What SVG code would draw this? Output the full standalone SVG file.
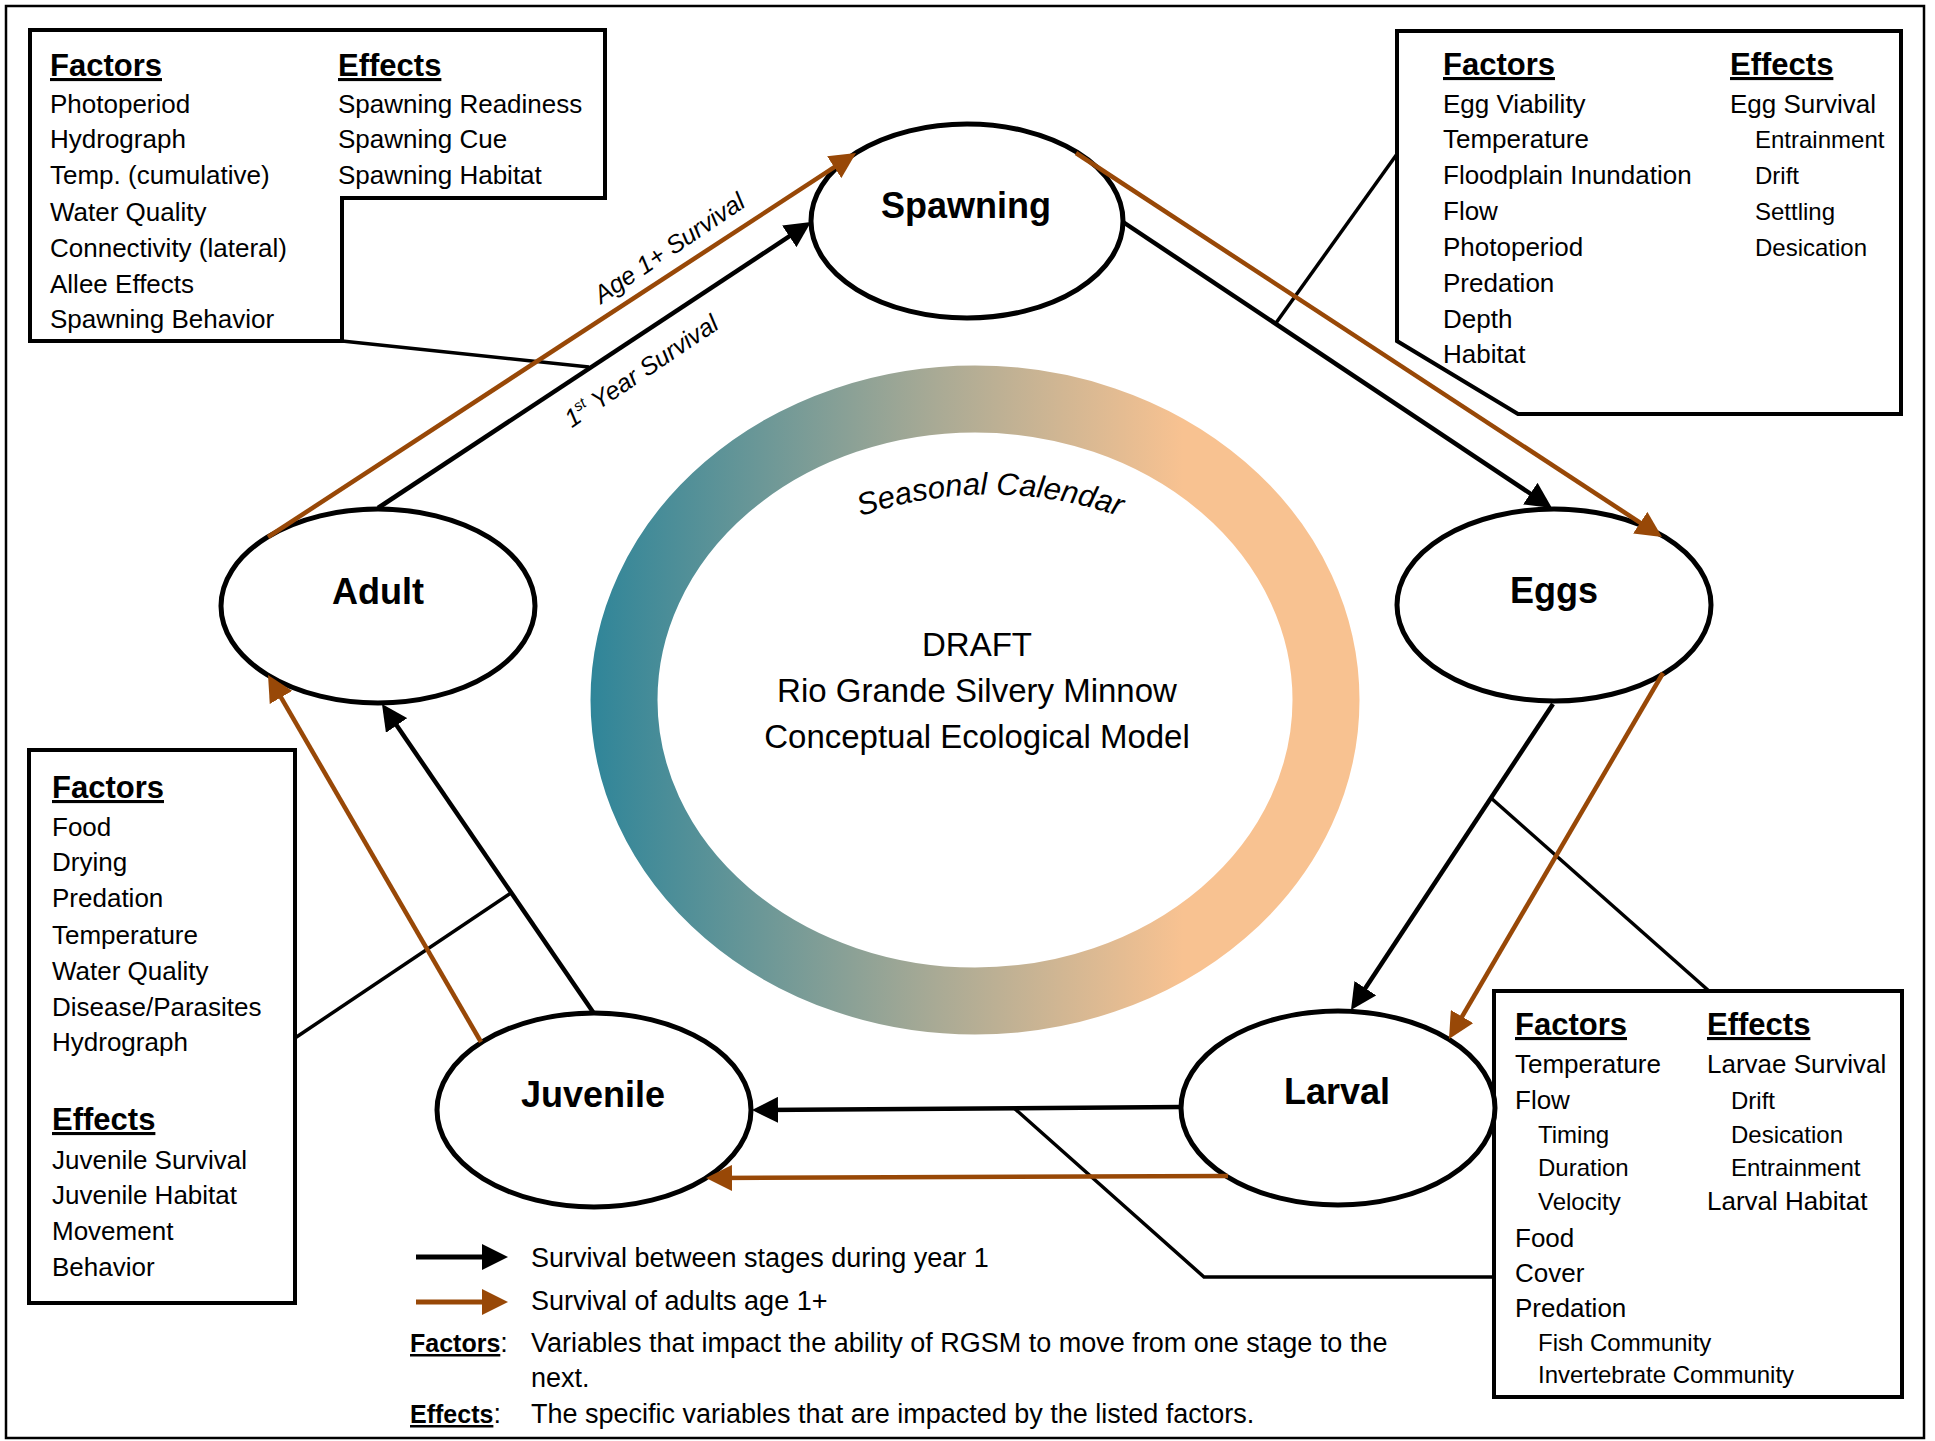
<svg xmlns="http://www.w3.org/2000/svg" width="1935" height="1441" viewBox="0 0 1935 1441">
<style>
text{font-family:"Liberation Sans",Arial,sans-serif;fill:#000}
.t{font-size:26px}
.s{font-size:24px}
.h{font-size:31px;font-weight:bold;text-decoration:underline}
.lg{font-size:27px}
.node ellipse{fill:#fff;stroke:#000;stroke-width:5}
.node text{font-size:36px;font-weight:bold;text-anchor:middle}
.box{fill:#fff;stroke:#000;stroke-width:4;stroke-linejoin:miter}
.blk{stroke:#000;stroke-width:4.5;fill:none;marker-end:url(#ab)}
.org{stroke:#984807;stroke-width:4.5;fill:none;marker-end:url(#ao)}
.con{stroke:#000;stroke-width:3.5;fill:none}
.it{font-size:25px;font-style:italic;text-anchor:middle}
.ctr{font-size:33px;text-anchor:middle}
</style>
<defs>
<marker id="ab" markerUnits="userSpaceOnUse" markerWidth="26" markerHeight="26" viewBox="0 0 26 26" refX="18" refY="13" orient="auto"><path d="M0,0 L26,13 L0,26 z" fill="#000"/></marker>
<marker id="ao" markerUnits="userSpaceOnUse" markerWidth="26" markerHeight="26" viewBox="0 0 26 26" refX="18" refY="13" orient="auto"><path d="M0,0 L26,13 L0,26 z" fill="#984807"/></marker>
<linearGradient id="ring" gradientUnits="userSpaceOnUse" x1="590" y1="0" x2="1360" y2="0">
<stop offset="0" stop-color="#2F8599"/>
<stop offset="0.45" stop-color="#A9AA95"/>
<stop offset="0.77" stop-color="#F8C291"/>
<stop offset="1" stop-color="#F8C291"/>
</linearGradient>
<path id="arc" d="M736,587 A395,395 0 0 1 1244,587"/>
</defs>
<rect x="0" y="0" width="1935" height="1441" fill="#fff"/>
<rect x="6" y="6" width="1918" height="1432" fill="none" stroke="#000" stroke-width="2.5"/>

<g id="calendar">
<ellipse cx="975" cy="700" rx="351" ry="301" fill="none" stroke="url(#ring)" stroke-width="67"/>
<text style="font-size:31px;font-style:italic" text-anchor="middle"><textPath href="#arc" startOffset="50%">Seasonal Calendar</textPath></text>
<text class="ctr" x="977" y="656">DRAFT</text>
<text class="ctr" x="977" y="702">Rio Grande Silvery Minnow</text>
<text class="ctr" x="977" y="748">Conceptual Ecological Model</text>
</g>

<g id="box-spawning">
<polygon class="box" points="30,30 605,30 605,198 342,198 342,341 30,341"/>
<text class="h" x="50" y="76">Factors</text>
<text class="t" x="50" y="113">Photoperiod</text>
<text class="t" x="50" y="148">Hydrograph</text>
<text class="t" x="50" y="184">Temp. (cumulative)</text>
<text class="t" x="50" y="221">Water Quality</text>
<text class="t" x="50" y="257">Connectivity (lateral)</text>
<text class="t" x="50" y="293">Allee Effects</text>
<text class="t" x="50" y="328">Spawning Behavior</text>
<text class="h" x="338" y="76">Effects</text>
<text class="t" x="338" y="113">Spawning Readiness</text>
<text class="t" x="338" y="148">Spawning Cue</text>
<text class="t" x="338" y="184">Spawning Habitat</text>
</g>

<g id="box-eggs">
<polygon class="box" points="1397,31 1901,31 1901,414 1518,414 1397,341"/>
<text class="h" x="1443" y="75">Factors</text>
<text class="t" x="1443" y="113">Egg Viability</text>
<text class="t" x="1443" y="148">Temperature</text>
<text class="t" x="1443" y="184">Floodplain Inundation</text>
<text class="t" x="1443" y="220">Flow</text>
<text class="t" x="1443" y="256">Photoperiod</text>
<text class="t" x="1443" y="292">Predation</text>
<text class="t" x="1443" y="328">Depth</text>
<text class="t" x="1443" y="363">Habitat</text>
<text class="h" x="1730" y="75">Effects</text>
<text class="t" x="1730" y="113">Egg Survival</text>
<text class="s" x="1755" y="148">Entrainment</text>
<text class="s" x="1755" y="184">Drift</text>
<text class="s" x="1755" y="220">Settling</text>
<text class="s" x="1755" y="256">Desication</text>
</g>

<g id="box-juvenile">
<rect class="box" x="29" y="750" width="266" height="553"/>
<text class="h" x="52" y="798">Factors</text>
<text class="t" x="52" y="836">Food</text>
<text class="t" x="52" y="871">Drying</text>
<text class="t" x="52" y="907">Predation</text>
<text class="t" x="52" y="944">Temperature</text>
<text class="t" x="52" y="980">Water Quality</text>
<text class="t" x="52" y="1016">Disease/Parasites</text>
<text class="t" x="52" y="1051">Hydrograph</text>
<text class="h" x="52" y="1130">Effects</text>
<text class="t" x="52" y="1169">Juvenile Survival</text>
<text class="t" x="52" y="1204">Juvenile Habitat</text>
<text class="t" x="52" y="1240">Movement</text>
<text class="t" x="52" y="1276">Behavior</text>
</g>

<g id="box-larval">
<rect class="box" x="1494" y="991" width="408" height="406"/>
<text class="h" x="1515" y="1035">Factors</text>
<text class="t" x="1515" y="1073">Temperature</text>
<text class="t" x="1515" y="1109">Flow</text>
<text class="s" x="1538" y="1143">Timing</text>
<text class="s" x="1538" y="1176">Duration</text>
<text class="s" x="1538" y="1210">Velocity</text>
<text class="t" x="1515" y="1247">Food</text>
<text class="t" x="1515" y="1282">Cover</text>
<text class="t" x="1515" y="1317">Predation</text>
<text class="s" x="1538" y="1351">Fish Community</text>
<text class="s" x="1538" y="1383">Invertebrate Community</text>
<text class="h" x="1707" y="1035">Effects</text>
<text class="t" x="1707" y="1073">Larvae Survival</text>
<text class="s" x="1731" y="1109">Drift</text>
<text class="s" x="1731" y="1143">Desication</text>
<text class="s" x="1731" y="1176">Entrainment</text>
<text class="t" x="1707" y="1210">Larval Habitat</text>
</g>

<g id="node-spawning" class="node"><ellipse cx="967" cy="221" rx="156" ry="97"/><text x="966" y="218">Spawning</text></g>
<g id="node-eggs" class="node"><ellipse cx="1554" cy="605" rx="157" ry="96"/><text x="1554" y="603">Eggs</text></g>
<g id="node-larval" class="node"><ellipse cx="1338" cy="1108" rx="157" ry="97"/><text x="1337" y="1104">Larval</text></g>
<g id="node-juvenile" class="node"><ellipse cx="594" cy="1110" rx="157" ry="97"/><text x="593" y="1107">Juvenile</text></g>
<g id="node-adult" class="node"><ellipse cx="378" cy="606" rx="157" ry="97"/><text x="378" y="604">Adult</text></g>

<g id="connectors">
<line class="con" x1="342" y1="341" x2="589" y2="367"/>
<line class="con" x1="1397" y1="154" x2="1276" y2="323"/>
<line class="con" x1="295" y1="1038" x2="511" y2="893"/>
<line class="con" x1="1709" y1="991" x2="1491" y2="798"/>
<polyline class="con" points="1014,1108 1204,1277 1494,1277"/>
<line class="blk" x1="378" y1="508" x2="804.3" y2="226.4"/>
<line class="org" x1="268" y1="537" x2="849.3" y2="157.4"/>
<line class="blk" x1="1123" y1="222" x2="1545.3" y2="503.6"/>
<line class="org" x1="1076" y1="153" x2="1655.3" y2="532.6"/>
<line class="blk" x1="1553" y1="704" x2="1355.4" y2="1003.3"/>
<line class="org" x1="1663" y1="673" x2="1453" y2="1032.1"/>
<line class="blk" x1="1181" y1="1107" x2="760" y2="1110"/>
<line class="org" x1="1228" y1="1176" x2="714" y2="1178"/>
<line class="blk" x1="593" y1="1012" x2="386.5" y2="710.6"/>
<line class="org" x1="481" y1="1042" x2="272" y2="681.9"/>
<text class="it" transform="translate(674,255) rotate(-34)">Age 1+ Survival</text>
<text class="it" transform="translate(646,378) rotate(-34)">1<tspan font-size="15" dy="-10">st</tspan><tspan dy="10"> Year Survival</tspan></text>
</g>

<g id="legend">
<line x1="416" y1="1257" x2="500" y2="1257" stroke="#000" stroke-width="5" marker-end="url(#ab)"/>
<line x1="416" y1="1302" x2="500" y2="1302" stroke="#984807" stroke-width="5" marker-end="url(#ao)"/>
<text class="lg" x="531" y="1267">Survival between stages during year 1</text>
<text class="lg" x="531" y="1310">Survival of adults age 1+</text>
<text class="lg" x="410" y="1352"><tspan font-weight="bold" font-size="25" text-decoration="underline">Factors</tspan>:</text>
<text class="lg" x="531" y="1352">Variables that impact the ability of RGSM to move from one stage to the</text>
<text class="lg" x="531" y="1387">next.</text>
<text class="lg" x="410" y="1423"><tspan font-weight="bold" font-size="25" text-decoration="underline">Effects</tspan>:</text>
<text class="lg" x="531" y="1423">The specific variables that are impacted by the listed factors.</text>
</g>
</svg>
